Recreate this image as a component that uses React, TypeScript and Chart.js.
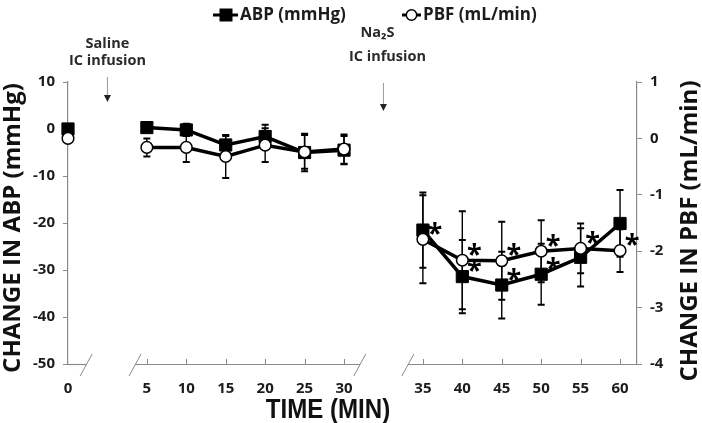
import React, { useEffect, useRef } from 'react';
import { Chart, registerables } from 'chart.js';

Chart.register(...registerables);

// ---- data ----
const times = [0, 5, 10, 15, 20, 25, 30, 35, 40, 45, 50, 55, 60];
const abpValues = [0, 0.3, -0.2, -3.4, -1.6, -5.0, -4.5, -21.5, -31.4, -33.2, -30.9, -27.3, -20.1];
const abpErrors = [0, 0.8, 1.3, 1.9, 2.5, 4.0, 3.0, 8.0, 7.8, 7.1, 6.5, 6.2, 7.1];
const pbfValues = [0, -0.16, -0.16, -0.32, -0.12, -0.24, -0.19, -1.79, -2.16, -2.17, -2.0, -1.95, -1.99];
const pbfErrors = [0, 0.16, 0.26, 0.38, 0.3, 0.3, 0.26, 0.78, 0.87, 0.69, 0.55, 0.44, 0.38];
const abpStarTimes = [40, 45, 50];
const pbfStarTimes = [35, 40, 45, 50, 55, 60];
const gapAfterTimes = [0, 30];
const abpRange = [-50, 10];
const pbfRange = [-4, 1];
const seriesLabels = ['ABP (mmHg)', 'PBF (mL/min)'];
const annotations = [
  { at: 2.5, lines: ['Saline', 'IC infusion'] },
  { at: 32.5, lines: ['Na\u2082S', 'IC infusion'] },
];

// broken time axis: 0 | 5..30 | 35..60
const pos = (t: number) => (t === 0 ? 0 : t <= 30 ? t / 5 + 1 : t / 5 + 2);
const xMax = 14.43;
const axisBreaks = [
  [0.46, 1.7],
  [7.4, 8.62],
];

const GRAY = '#8a8a8a';
const TEXT = '#1c1c1c';
const FONT = "'Open Sans', 'DejaVu Sans', sans-serif";

const decorPlugin = {
  id: 'decor',
  beforeDatasetsDraw(chart: any) {
    const { ctx, scales } = chart;
    const x = scales.x;
    const sets = [
      { y: scales.yR, v: pbfValues, e: pbfErrors },
      { y: scales.yL, v: abpValues, e: abpErrors },
    ];
    ctx.save();
    ctx.strokeStyle = '#000';
    sets.forEach((s) => {
      times.forEach((t, i) => {
        if (!s.e[i]) return;
        const px = x.getPixelForValue(pos(t));
        const top = s.y.getPixelForValue(s.v[i] + s.e[i]);
        const bot = s.y.getPixelForValue(s.v[i] - s.e[i]);
        ctx.lineWidth = 1.4;
        ctx.beginPath();
        ctx.moveTo(px, top);
        ctx.lineTo(px, bot);
        ctx.stroke();
        ctx.lineWidth = 2;
        ctx.beginPath();
        ctx.moveTo(px - 3.5, top);
        ctx.lineTo(px + 3.5, top);
        ctx.moveTo(px - 3.5, bot);
        ctx.lineTo(px + 3.5, bot);
        ctx.stroke();
      });
    });
    ctx.restore();
  },
  afterDatasetsDraw(chart: any) {
    const { ctx, scales } = chart;
    ctx.save();
    ctx.fillStyle = '#000';
    ctx.font = `bold 27px ${FONT}`;
    ctx.textAlign = 'center';
    ctx.textBaseline = 'alphabetic';
    const put = (t: number, v: number, y: any) => {
      const px = scales.x.getPixelForValue(pos(t));
      const py = y.getPixelForValue(v);
      ctx.fillText('*', px + 12, py + 2.5);
    };
    pbfStarTimes.forEach((t) => put(t, pbfValues[times.indexOf(t)], scales.yR));
    abpStarTimes.forEach((t) => put(t, abpValues[times.indexOf(t)], scales.yL));
    ctx.restore();
  },
  afterDraw(chart: any) {
    const { ctx, scales, chartArea } = chart;
    const x = scales.x;
    const base = chartArea.bottom;
    ctx.save();
    // broken x baseline
    ctx.strokeStyle = GRAY;
    ctx.lineWidth = 1.2;
    const segs = [
      [0, axisBreaks[0][0]],
      [axisBreaks[0][1], axisBreaks[1][0]],
      [axisBreaks[1][1], xMax],
    ];
    segs.forEach(([a, b]) => {
      ctx.beginPath();
      ctx.moveTo(x.getPixelForValue(a), base + 0.5);
      ctx.lineTo(x.getPixelForValue(b), base + 0.5);
      ctx.stroke();
    });
    ctx.lineWidth = 1;
    axisBreaks.flat().forEach((b) => {
      const bx = x.getPixelForValue(b);
      ctx.beginPath();
      ctx.moveTo(bx + 6, base - 10);
      ctx.lineTo(bx - 6, base + 12);
      ctx.stroke();
    });
    // inner tick marks
    times.forEach((t) => {
      if (t === 0) return;
      const tx = Math.round(x.getPixelForValue(pos(t))) + 0.5;
      ctx.beginPath();
      ctx.moveTo(tx, base);
      ctx.lineTo(tx, base - 5);
      ctx.stroke();
    });

    // axis titles
    ctx.fillStyle = '#111';
    ctx.textAlign = 'center';
    ctx.textBaseline = 'middle';
    ctx.font = `bold 24px ${FONT}`;
    ctx.save();
    ctx.translate(13, 228);
    ctx.rotate(-Math.PI / 2);
    ctx.fillText('CHANGE IN ABP (mmHg)', 0, 0);
    ctx.restore();
    ctx.save();
    ctx.translate(690, 231);
    ctx.rotate(-Math.PI / 2);
    ctx.fillText('CHANGE IN PBF (mL/min)', 0, 0);
    ctx.restore();
    ctx.save();
    ctx.translate(328, 410);
    ctx.scale(0.86, 1);
    ctx.font = "bold 28px 'Liberation Sans', Arial, sans-serif";
    ctx.fillText('TIME (MIN)', 0, 0);
    ctx.restore();

    // legend
    const ds = chart.data.datasets;
    ctx.strokeStyle = '#000';
    ctx.lineWidth = 3;
    ctx.beginPath();
    ctx.moveTo(213, 15);
    ctx.lineTo(238, 15);
    ctx.stroke();
    ctx.fillStyle = '#000';
    ctx.fillRect(219.5, 8.5, 13, 13);
    ctx.beginPath();
    ctx.moveTo(402, 15);
    ctx.lineTo(421, 15);
    ctx.stroke();
    ctx.fillStyle = '#fff';
    ctx.lineWidth = 1.5;
    ctx.beginPath();
    ctx.arc(411.5, 15, 5.2, 0, Math.PI * 2);
    ctx.fill();
    ctx.stroke();
    ctx.fillStyle = TEXT;
    ctx.font = `bold 17px ${FONT}`;
    ctx.textAlign = 'left';
    ctx.fillText(ds[1].label, 240, 15);
    ctx.fillText(ds[0].label, 423, 15);

    // infusion annotations
    ctx.font = `bold 14.5px ${FONT}`;
    ctx.textAlign = 'center';
    const cfg = [
      { dx: [0, 0], ys: [44, 61], arrow: [77, 95] },
      { dx: [-6, 4], ys: [33, 57], arrow: [83, 104] },
    ];
    annotations.forEach((a, k) => {
      const ax = x.getPixelForValue(pos(a.at === 2.5 ? 0 : 30) + 1);
      const c = cfg[k];
      ctx.fillStyle = '#2a2a2a';
      a.lines.forEach((ln, j) => ctx.fillText(ln, ax + c.dx[j], c.ys[j]));
      ctx.strokeStyle = '#9a9a9a';
      ctx.lineWidth = 1;
      ctx.beginPath();
      ctx.moveTo(ax, c.arrow[0]);
      ctx.lineTo(ax, c.arrow[1]);
      ctx.stroke();
      ctx.fillStyle = '#222';
      ctx.beginPath();
      ctx.moveTo(ax - 3.5, c.arrow[1]);
      ctx.lineTo(ax + 3.5, c.arrow[1]);
      ctx.lineTo(ax, c.arrow[1] + 7);
      ctx.closePath();
      ctx.fill();
    });
    ctx.restore();
  },
};

export default function App() {
  const ref = useRef<HTMLCanvasElement | null>(null);
  useEffect(() => {
    if (!ref.current) return;
    const gapSeg = (ctx: any) =>
      gapAfterTimes.includes(times[ctx.p0DataIndex]) ? 'rgba(0,0,0,0)' : '#000';
    const tickFont = { family: FONT, size: 15, weight: 'bold' as const };
    const chart = new Chart(ref.current, {
      type: 'line',
      data: {
        datasets: [
          {
            label: seriesLabels[1],
            data: times.map((t, i) => ({ x: pos(t), y: pbfValues[i] })),
            yAxisID: 'yR',
            borderColor: '#000',
            borderWidth: 3.5,
            pointStyle: 'circle',
            pointRadius: 5.8,
            pointBorderWidth: 1.5,
            pointBackgroundColor: '#fff',
            pointBorderColor: '#000',
            segment: { borderColor: gapSeg },
            clip: false as any,
            order: 1,
          },
          {
            label: seriesLabels[0],
            data: times.map((t, i) => ({ x: pos(t), y: abpValues[i] })),
            yAxisID: 'yL',
            borderColor: '#000',
            borderWidth: 3.5,
            pointStyle: 'rect',
            pointRadius: 8.6,
            pointBorderWidth: 1,
            pointBackgroundColor: '#000',
            pointBorderColor: '#000',
            segment: { borderColor: gapSeg },
            clip: false as any,
            order: 2,
          },
        ],
      },
      options: {
        responsive: false,
        devicePixelRatio: 1,
        animation: false,
        events: [],
        layout: { padding: { top: 82, left: 0, right: 0, bottom: 0 } },
        plugins: { legend: { display: false }, tooltip: { enabled: false } },
        scales: {
          x: {
            type: 'linear',
            min: 0,
            max: xMax,
            afterBuildTicks: (axis: any) => {
              axis.ticks = times.map((t) => ({ value: pos(t) }));
            },
            afterFit: (s: any) => {
              s.height = 59;
            },
            ticks: {
              autoSkip: false,
              maxRotation: 0,
              padding: 8,
              color: TEXT,
              font: tickFont,
              callback: (v: any) => {
                const t = times.find((tt) => Math.abs(pos(tt) - v) < 1e-6);
                return t === undefined ? '' : String(t);
              },
            },
            grid: { display: false },
            border: { display: false },
          },
          yL: {
            type: 'linear',
            position: 'left',
            min: abpRange[0],
            max: abpRange[1],
            afterFit: (s: any) => {
              s.width = 68;
            },
            ticks: { stepSize: 10, padding: 8, color: TEXT, font: tickFont },
            grid: { display: true, drawOnChartArea: false, drawTicks: true, tickLength: 5, color: GRAY, lineWidth: 1 },
            border: { display: true, color: GRAY, width: 1.2 },
          },
          yR: {
            type: 'linear',
            position: 'right',
            min: pbfRange[0],
            max: pbfRange[1],
            afterFit: (s: any) => {
              s.width = 65;
            },
            ticks: { stepSize: 1, padding: 8, color: TEXT, font: tickFont },
            grid: { display: true, drawOnChartArea: false, drawTicks: true, tickLength: 5, color: GRAY, lineWidth: 1 },
            border: { display: true, color: GRAY, width: 1.2 },
          },
        },
      } as any,
      plugins: [decorPlugin],
    });
    return () => chart.destroy();
  }, []);
  return (
    <div style={{ position: 'absolute', left: 0, top: 0, width: 702, height: 423 }}>
      <canvas ref={ref} width={702} height={423} style={{ display: 'block' }} />
    </div>
  );
}
